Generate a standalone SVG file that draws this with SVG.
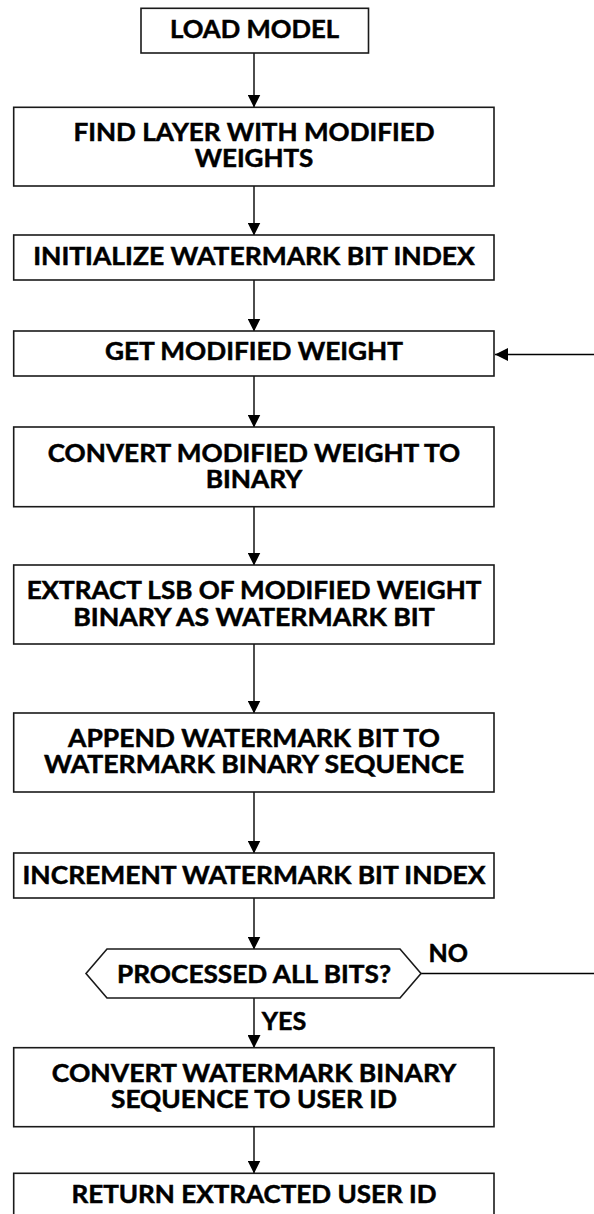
<svg xmlns="http://www.w3.org/2000/svg" width="594" height="1214" viewBox="0 0 594 1214">
<style>
.box{fill:#ffffff;stroke:#1a1a1a;stroke-width:1.6}
.t{font-family:Lato,"Open Sans","Liberation Sans",sans-serif;font-weight:700;font-size:25.5px;fill:#000;stroke:#000;stroke-width:0.5;text-anchor:middle}
.l{font-family:Lato,"Open Sans","Liberation Sans",sans-serif;font-weight:700;font-size:25.5px;fill:#000;stroke:#000;stroke-width:0.5}
.c{fill:none;stroke:#000;stroke-width:1.4}
</style>
<defs>
<marker id="ah" markerUnits="userSpaceOnUse" markerWidth="13" markerHeight="13" refX="13" refY="6.5" orient="auto">
<path d="M0,0 L13,6.5 L0,13 z" fill="#000"/>
</marker>
</defs>
<rect width="594" height="1214" fill="#fff"/>
<g id="connectors">
<line class="c" x1="254" y1="53" x2="254" y2="107.5" marker-end="url(#ah)"/>
<line class="c" x1="254" y1="186" x2="254" y2="235.5" marker-end="url(#ah)"/>
<line class="c" x1="254" y1="280" x2="254" y2="331.5" marker-end="url(#ah)"/>
<line class="c" x1="254" y1="376" x2="254" y2="427.5" marker-end="url(#ah)"/>
<line class="c" x1="254" y1="507" x2="254" y2="565.5" marker-end="url(#ah)"/>
<line class="c" x1="254" y1="644" x2="254" y2="713.5" marker-end="url(#ah)"/>
<line class="c" x1="254" y1="792" x2="254" y2="853.5" marker-end="url(#ah)"/>
<line class="c" x1="254" y1="898" x2="254" y2="949.5" marker-end="url(#ah)"/>
<line class="c" x1="254" y1="998" x2="254" y2="1048" marker-end="url(#ah)"/>
<line class="c" x1="254" y1="1127" x2="254" y2="1173.5" marker-end="url(#ah)"/>
<path class="c" d="M421,973.5 H597 V354.5 H495" marker-end="url(#ah)"/>
<text class="l" x="261.7" y="1030" textLength="44.5" lengthAdjust="spacingAndGlyphs">YES</text>
<text class="l" x="428.5" y="962" textLength="39.5" lengthAdjust="spacingAndGlyphs">NO</text>
</g>
<g id="n1">
<rect class="box" x="141" y="8.3" width="227.5" height="44.7"/>
<text class="t" x="254.5" y="38.3" textLength="169" lengthAdjust="spacingAndGlyphs">LOAD MODEL</text>
</g>
<g id="n2">
<rect class="box" x="13.7" y="107.3" width="480.3" height="78.7"/>
<text class="t" x="254" y="140.7" textLength="361" lengthAdjust="spacingAndGlyphs">FIND LAYER WITH MODIFIED</text>
<text class="t" x="254" y="167.4" textLength="118.7" lengthAdjust="spacingAndGlyphs">WEIGHTS</text>
</g>
<g id="n3">
<rect class="box" x="13.7" y="235" width="480.3" height="45"/>
<text class="t" x="254" y="265" textLength="441.7" lengthAdjust="spacingAndGlyphs">INITIALIZE WATERMARK BIT INDEX</text>
</g>
<g id="n4">
<rect class="box" x="13.7" y="331" width="480.3" height="45"/>
<text class="t" x="254" y="360" textLength="298" lengthAdjust="spacingAndGlyphs">GET MODIFIED WEIGHT</text>
</g>
<g id="n5">
<rect class="box" x="13.7" y="427" width="480.3" height="79.7"/>
<text class="t" x="254" y="461.7" textLength="412.6" lengthAdjust="spacingAndGlyphs">CONVERT MODIFIED WEIGHT TO</text>
<text class="t" x="254" y="488.4" textLength="96.7" lengthAdjust="spacingAndGlyphs">BINARY</text>
</g>
<g id="n6">
<rect class="box" x="13.7" y="565" width="480.3" height="79"/>
<text class="t" x="254" y="599.3" textLength="454.7" lengthAdjust="spacingAndGlyphs">EXTRACT LSB OF MODIFIED WEIGHT</text>
<text class="t" x="254" y="626" textLength="361.5" lengthAdjust="spacingAndGlyphs">BINARY AS WATERMARK BIT</text>
</g>
<g id="n7">
<rect class="box" x="13.7" y="713" width="480.3" height="79"/>
<text class="t" x="254" y="746.7" textLength="372" lengthAdjust="spacingAndGlyphs">APPEND WATERMARK BIT TO</text>
<text class="t" x="254" y="773.3" textLength="420" lengthAdjust="spacingAndGlyphs">WATERMARK BINARY SEQUENCE</text>
</g>
<g id="n8">
<rect class="box" x="13.7" y="853" width="480.3" height="45"/>
<text class="t" x="254" y="884" textLength="463" lengthAdjust="spacingAndGlyphs">INCREMENT WATERMARK BIT INDEX</text>
</g>
<g id="n9">
<polygon class="box" points="86,973.5 107,949 400,949 421,973.5 400,998 107,998"/>
<text class="t" x="254" y="983.3" textLength="274" lengthAdjust="spacingAndGlyphs">PROCESSED ALL BITS?</text>
</g>
<g id="n10">
<rect class="box" x="13.7" y="1047.7" width="480.3" height="79"/>
<text class="t" x="254" y="1081.7" textLength="404.5" lengthAdjust="spacingAndGlyphs">CONVERT WATERMARK BINARY</text>
<text class="t" x="254" y="1108.3" textLength="286" lengthAdjust="spacingAndGlyphs">SEQUENCE TO USER ID</text>
</g>
<g id="n11">
<rect class="box" x="13.7" y="1173.3" width="480.3" height="45"/>
<text class="t" x="254" y="1203.3" textLength="365" lengthAdjust="spacingAndGlyphs">RETURN EXTRACTED USER ID</text>
</g>
</svg>
